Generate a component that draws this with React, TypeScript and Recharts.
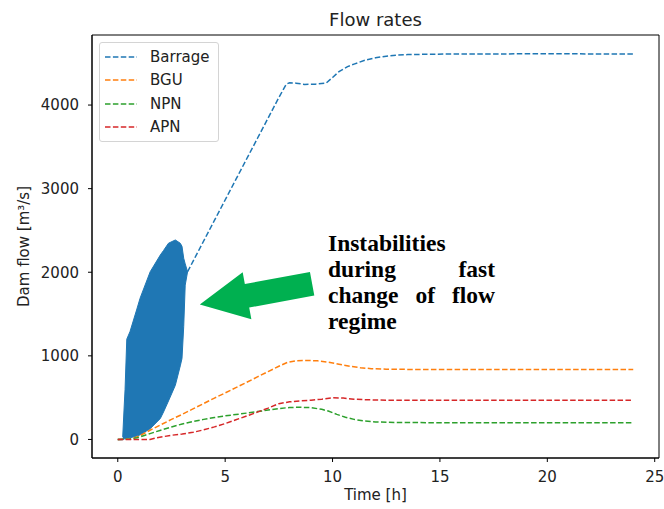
import React from "react";
import {
  ComposedChart,
  Line,
  Area,
  XAxis,
  YAxis,
  Legend,
  ReferenceArea,
  ReferenceLine,
} from "recharts";

const X_TICKS = [0, 5, 10, 15, 20, 25];
const Y_TICKS = [0, 1000, 2000, 3000, 4000];
const X_DOMAIN = [-1.2, 25.2];
const Y_DOMAIN = [-222, 4838];

// Barrage dashed line; the null breaks it where the unstable band is
const barrageLine = [
  { t: 0, v: 0 }, { t: 0.23, v: 0 }, { t: 0.24, v: null },
  { t: 3.25, v: 2006 }, { t: 4.5, v: 2620 }, { t: 5.5, v: 3110 },
  { t: 6.5, v: 3600 }, { t: 7.5, v: 4090 }, { t: 7.85, v: 4252 },
  { t: 8.0, v: 4266 }, { t: 8.3, v: 4262 }, { t: 8.7, v: 4247 },
  { t: 9.2, v: 4250 }, { t: 9.7, v: 4262 }, { t: 10.0, v: 4330 },
  { t: 10.3, v: 4400 }, { t: 10.7, v: 4460 }, { t: 11.0, v: 4490 },
  { t: 11.5, v: 4535 }, { t: 12.0, v: 4565 }, { t: 12.5, v: 4585 },
  { t: 13.0, v: 4597 }, { t: 13.5, v: 4604 }, { t: 14.5, v: 4608 },
  { t: 16, v: 4612 }, { t: 18, v: 4612 }, { t: 20, v: 4613 },
  { t: 22, v: 4612 }, { t: 24, v: 4610 },
];

// envelope of the fast oscillation (low, high)
const barrageBand = [
  { t: 0.23, band: [0, 30] }, { t: 0.3, band: [5, 400] },
  { t: 0.34, band: [10, 600] }, { t: 0.42, band: [15, 1200] },
  { t: 0.57, band: [20, 1290] }, { t: 0.89, band: [40, 1560] },
  { t: 1.04, band: [55, 1690] }, { t: 1.51, band: [128, 2006] },
  { t: 1.98, band: [250, 2206] }, { t: 2.13, band: [328, 2260] },
  { t: 2.36, band: [460, 2347] }, { t: 2.68, band: [648, 2386] },
  { t: 2.91, band: [880, 2347] }, { t: 2.99, band: [968, 2310] },
  { t: 3.07, band: [1350, 2167] }, { t: 3.14, band: [1846, 2100] },
  { t: 3.25, band: [2006, 2006] },
];

const bguLine = [
  { t: 0, v: 0 }, { t: 0.6, v: 5 }, { t: 1.0, v: 40 }, { t: 1.5, v: 110 },
  { t: 2.0, v: 175 }, { t: 2.5, v: 240 }, { t: 3.0, v: 300 },
  { t: 3.5, v: 365 }, { t: 4.0, v: 430 }, { t: 4.5, v: 495 },
  { t: 5.0, v: 556 }, { t: 5.5, v: 620 }, { t: 6.0, v: 683 },
  { t: 6.5, v: 748 }, { t: 7.0, v: 812 }, { t: 7.5, v: 875 },
  { t: 7.9, v: 922 }, { t: 8.3, v: 942 }, { t: 8.8, v: 945 },
  { t: 9.3, v: 940 }, { t: 9.8, v: 925 }, { t: 10.3, v: 900 },
  { t: 10.8, v: 875 }, { t: 11.3, v: 858 }, { t: 11.8, v: 847 },
  { t: 12.5, v: 840 }, { t: 14, v: 837 }, { t: 18, v: 836 }, { t: 24, v: 836 },
];

const npnLine = [
  { t: 0, v: 0 }, { t: 0.5, v: 3 }, { t: 0.9, v: 20 }, { t: 1.2, v: 45 },
  { t: 1.5, v: 70 }, { t: 2.0, v: 110 }, { t: 2.5, v: 150 },
  { t: 3.0, v: 185 }, { t: 3.5, v: 215 }, { t: 4.0, v: 240 },
  { t: 4.5, v: 262 }, { t: 5.0, v: 282 }, { t: 5.5, v: 298 },
  { t: 6.0, v: 315 }, { t: 6.5, v: 333 }, { t: 7.0, v: 352 },
  { t: 7.5, v: 370 }, { t: 8.0, v: 382 }, { t: 8.5, v: 385 },
  { t: 9.0, v: 380 }, { t: 9.5, v: 360 }, { t: 9.8, v: 340 },
  { t: 10.2, v: 300 }, { t: 10.6, v: 265 }, { t: 11.0, v: 240 },
  { t: 11.5, v: 220 }, { t: 12.0, v: 210 }, { t: 13, v: 203 },
  { t: 15, v: 200 }, { t: 24, v: 200 },
];

const apnLine = [
  { t: 0, v: 0 }, { t: 1.5, v: 0 }, { t: 1.8, v: 20 }, { t: 2.5, v: 50 },
  { t: 3.0, v: 65 }, { t: 3.5, v: 85 }, { t: 4.0, v: 115 },
  { t: 4.5, v: 150 }, { t: 5.0, v: 190 }, { t: 5.5, v: 235 },
  { t: 6.0, v: 280 }, { t: 6.5, v: 327 }, { t: 7.0, v: 375 },
  { t: 7.5, v: 428 }, { t: 8.0, v: 450 }, { t: 8.5, v: 462 },
  { t: 9.0, v: 470 }, { t: 9.5, v: 482 }, { t: 10.0, v: 498 },
  { t: 10.5, v: 495 }, { t: 11.0, v: 482 }, { t: 11.5, v: 475 },
  { t: 12.5, v: 470 }, { t: 15, v: 470 }, { t: 24, v: 470 },
];

const SERIES = [
  { name: "Barrage", color: "#1f77b4", data: barrageLine },
  { name: "BGU", color: "#ff7f0e", data: bguLine },
  { name: "NPN", color: "#2ca02c", data: npnLine },
  { name: "APN", color: "#d62728", data: apnLine },
];

// annotation arrow, tail -> tip, in data units
const ARROW = [
  { x: 9.05, y: 1862 },
  { x: 3.82, y: 1615 },
];

const FONT = "'DejaVu Sans', sans-serif";
const DASH = "5.5 2.4";

function GreenArrow(props: any) {
  const { x1, y1, x2, y2 } = props;
  const dx = x2 - x1;
  const dy = y2 - y1;
  const len = Math.hypot(dx, dy);
  const ux = dx / len;
  const uy = dy / len;
  const px = -uy;
  const py = ux;
  const shaft = 12;
  const head = 24;
  const headLen = 48;
  const bx = x2 - ux * headLen;
  const by = y2 - uy * headLen;
  const pts = [
    [x1 + px * shaft, y1 + py * shaft],
    [bx + px * shaft, by + py * shaft],
    [bx + px * head, by + py * head],
    [x2, y2],
    [bx - px * head, by - py * head],
    [bx - px * shaft, by - py * shaft],
    [x1 - px * shaft, y1 - py * shaft],
  ];
  return <polygon points={pts.map((p) => p.join(",")).join(" ")} fill="#00b050" />;
}

function LegendBox() {
  return (
    <div
      style={{
        border: "1px solid #d4d4d4",
        borderRadius: 3,
        background: "rgba(255,255,255,0.8)",
        padding: "2.5px 8px 2px 5.5px",
        fontFamily: FONT,
        fontSize: 15,
        color: "#222",
      }}
    >
      {SERIES.map((s) => (
        <div key={s.name} style={{ height: 23.3, display: "flex", alignItems: "center" }}>
          <svg width={32} height={4} style={{ marginRight: 13 }}>
            <line x1={0} y1={2} x2={32} y2={2} stroke={s.color} strokeWidth={1.5} strokeDasharray={DASH} />
          </svg>
          <span>{s.name}</span>
        </div>
      ))}
    </div>
  );
}

export default function App() {
  return (
    <div style={{ position: "absolute", left: 0, top: 0, width: 664, height: 509, background: "#fff" }}>
      <div
        style={{
          position: "absolute",
          left: 92,
          width: 567,
          top: 9.3,
          lineHeight: "21px",
          textAlign: "center",
          fontFamily: FONT,
          fontSize: 18,
          color: "#222",
        }}
      >
        Flow rates
      </div>

      <ComposedChart width={664} height={509} margin={{ top: 35, right: 5, bottom: 11, left: 0 }}>
        <XAxis
          type="number"
          dataKey="t"
          domain={X_DOMAIN}
          ticks={X_TICKS}
          allowDataOverflow
          stroke="#000"
          tickSize={4}
          tickMargin={9}
          height={40}
          tick={{ fill: "#222", fontSize: 15, fontFamily: FONT }}
          label={{
            content: ({ viewBox }: any) => (
              <text
                x={viewBox.x + viewBox.width / 2}
                y={viewBox.y + 42}
                textAnchor="middle"
                fontFamily={FONT}
                fontSize={15}
                fill="#222"
              >
                Time [h]
              </text>
            ),
          }}
        />
        <YAxis
          type="number"
          domain={Y_DOMAIN}
          ticks={Y_TICKS}
          allowDataOverflow
          width={92}
          stroke="#000"
          tickSize={4}
          tickMargin={9}
          tick={{ fill: "#222", fontSize: 15, fontFamily: FONT }}
          label={{
            content: ({ viewBox }: any) => {
              const cx = viewBox.x + 24;
              const cy = viewBox.y + viewBox.height / 2;
              return (
                <text
                  x={cx}
                  y={cy}
                  transform={`rotate(-90 ${cx} ${cy})`}
                  textAnchor="middle"
                  dominantBaseline="central"
                  fontFamily={FONT}
                  fontSize={15}
                  fill="#222"
                >
                  Dam flow [m³/s]
                </text>
              );
            },
          }}
        />

        <ReferenceArea
          x1={X_DOMAIN[0]}
          x2={X_DOMAIN[1]}
          y1={Y_DOMAIN[0]}
          y2={Y_DOMAIN[1]}
          fill="none"
          fillOpacity={0}
          stroke="#000"
          strokeWidth={1}
          ifOverflow="visible"
        />

        <Area
          data={barrageBand}
          dataKey="band"
          type="linear"
          stroke="#1f77b4"
          strokeWidth={1}
          fill="#1f77b4"
          fillOpacity={1}
          legendType="none"
          isAnimationActive={false}
        />

        {SERIES.map((s) => (
          <Line
            key={s.name}
            data={s.data}
            dataKey="v"
            name={s.name}
            type="linear"
            stroke={s.color}
            strokeWidth={1.5}
            strokeDasharray={DASH}
            dot={false}
            activeDot={false}
            connectNulls={false}
            isAnimationActive={false}
          />
        ))}

        <ReferenceLine segment={ARROW} ifOverflow="visible" shape={(p: any) => <GreenArrow {...p} />} />

        <Legend
          layout="vertical"
          align="center"
          verticalAlign="middle"
          wrapperStyle={{ left: 98.5, top: 42, width: "auto", height: "auto" }}
          content={() => <LegendBox />}
        />
      </ComposedChart>

      <div
        style={{
          position: "absolute",
          left: 328,
          top: 229.9,
          width: 167,
          fontFamily: "'Liberation Serif', 'Times New Roman', serif",
          fontWeight: "bold",
          fontSize: 23.5,
          lineHeight: "26px",
          textAlign: "justify",
          color: "#000",
        }}
      >
        Instabilities during fast change of flow regime
      </div>
    </div>
  );
}
